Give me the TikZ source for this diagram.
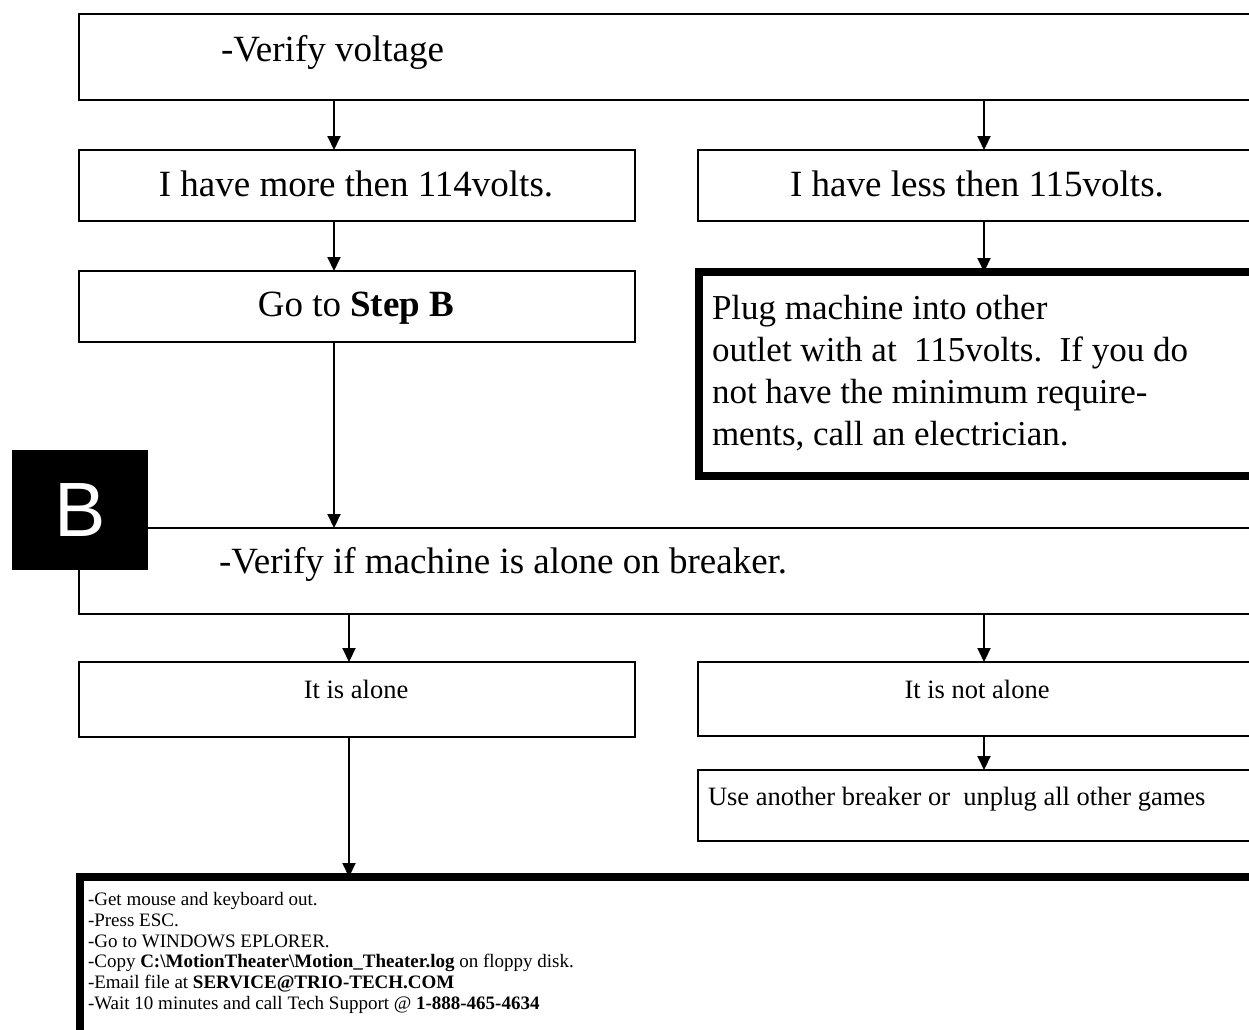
\documentclass[tikz,border=0pt]{standalone}
\usepackage{fontspec}
\setmainfont{Liberation Serif}
\newfontfamily\bsans{Liberation Sans}
\usetikzlibrary{arrows.meta}
\tikzset{
  box/.style={draw, line width=2.5pt, rectangle, inner sep=0pt, outer sep=0pt, anchor=north west},
  heavybox/.style={draw, line width=8pt, rectangle, inner sep=0pt, outer sep=0pt, anchor=north west},
  arr/.style={line width=2pt, -{Triangle[length=14pt,width=13pt]}},
  txt/.style={inner sep=0pt, outer sep=0pt}
}
\begin{document}
\begin{tikzpicture}[x=1pt,y=-1pt]
\useasboundingbox (0,0) rectangle (1249,1029);
\fill[white] (0,0) rectangle (1249,1029);
\clip (0,0) rectangle (1249,1029);

% boxes (line centres)
\node[box, minimum width=1200pt, minimum height=86pt] (top) at (79,14) {};
\node[box, minimum width=556pt, minimum height=71pt] (more) at (79,150) {};
\node[box, minimum width=600pt, minimum height=71pt] (less) at (698,150) {};
\node[box, minimum width=556pt, minimum height=71pt] (stepb) at (79,271) {};
\node[heavybox, minimum width=600pt, minimum height=204pt] (plug) at (699,272) {};
\node[box, minimum width=1200pt, minimum height=86pt] (verb) at (79,528) {};
\node[box, minimum width=556pt, minimum height=75pt] (alone) at (79,662) {};
\node[box, minimum width=600pt, minimum height=74pt] (notalone) at (698,662) {};
\node[box, minimum width=600pt, minimum height=71pt] (use) at (698,770) {};
\node[heavybox, minimum width=1200pt, minimum height=200pt] (final) at (80,877) {};

% B tab
\node[fill=black, minimum width=136pt, minimum height=120pt, inner sep=0pt, outer sep=0pt, anchor=north west,
      text=white, font=\bsans\fontsize{77}{84}\selectfont] (btab) at (12,450) {B};

% texts
\node[txt, anchor=base west, font=\fontsize{37}{42}\selectfont] (toptxt) at (221,61) {-Verify voltage};
\node[txt, anchor=base, font=\fontsize{37}{42}\selectfont] (moretxt) at (356,196) {I have more then 114volts.};
\node[txt, anchor=base, font=\fontsize{37}{42}\selectfont] (lesstxt) at (977,196) {I have less then 115volts.};
\node[txt, anchor=base, font=\fontsize{37}{42}\selectfont] (stepbtxt) at (356,316) {Go to \textbf{Step B}};
\node[txt, anchor=north west, align=left, font=\fontsize{35}{42}\selectfont] (plugtxt) at (712,295)
  {Plug machine into other\\outlet with at~~115volts.~~If you do\\not have the minimum require-\\ments, call an electrician.};
\node[txt, anchor=base west, font=\fontsize{37}{42}\selectfont] (verbtxt) at (219,573) {-Verify if machine is alone on breaker.};
\node[txt, anchor=base, font=\fontsize{26.5}{30}\selectfont] (alonetxt) at (356,698) {It is alone};
\node[txt, anchor=base, font=\fontsize{26.5}{30}\selectfont] (notalonetxt) at (977,698) {It is not alone};
\node[txt, anchor=base west, font=\fontsize{26.5}{30}\selectfont] (usetxt) at (708,805) {Use another breaker or~~unplug all other games};
\node[txt, anchor=north west, align=left, font=\fontsize{19}{20.9}\selectfont] (finaltxt) at (88,892)
  {-Get mouse and keyboard out.\\
   -Press ESC.\\
   -Go to WINDOWS EPLORER.\\
   -Copy \textbf{C:\textbackslash MotionTheater\textbackslash Motion\_Theater.log} on floppy disk.\\
   -Email file at \textbf{SERVICE@TRIO-TECH.COM}\\
   -Wait 10 minutes and call Tech Support @ \textbf{1-888-465-4634}};

% connectors
\draw[arr] (334,0 |- top.south) -- (334,0 |- more.north);
\draw[arr] (984,0 |- top.south) -- (984,0 |- less.north);
\draw[arr] (334,0 |- more.south) -- (334,0 |- stepb.north);
\draw[arr] (984,0 |- less.south) -- (984,0 |- plug.north);
\draw[arr] (334,0 |- stepb.south) -- (334,0 |- verb.north);
\draw[arr] (349,0 |- verb.south) -- (349,0 |- alone.north);
\draw[arr] (984,0 |- verb.south) -- (984,0 |- notalone.north);
\draw[arr] (984,0 |- notalone.south) -- (984,0 |- use.north);
\draw[arr] (349,0 |- alone.south) -- (349,0 |- final.north);
\end{tikzpicture}
\end{document}
